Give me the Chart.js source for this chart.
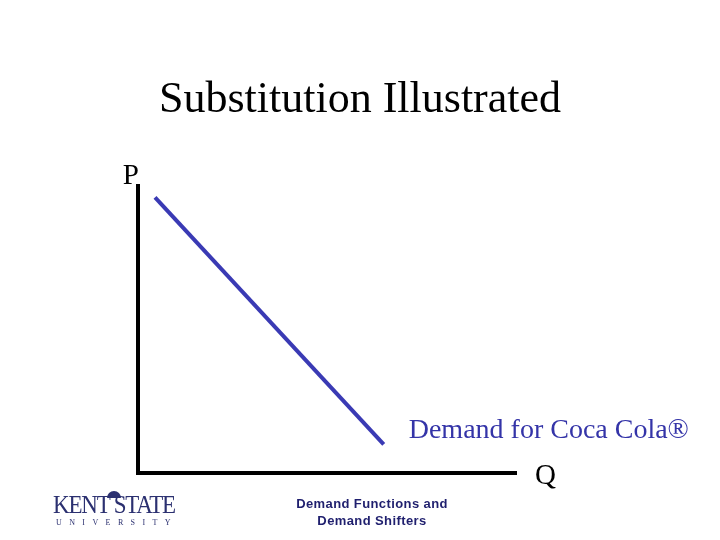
<!DOCTYPE html>
<html>
<head>
<meta charset="utf-8">
<script src="https://cdn.jsdelivr.net/npm/chart.js@4.4.1/dist/chart.umd.min.js"></script>
<style>
  html, body { margin: 0; padding: 0; background: #fff; }
  #wrap { position: relative; width: 720px; height: 540px; }
  #slide { position: absolute; left: 0; top: 0; }
  .footer { position: absolute; left: 270px; top: 495px; width: 204px; text-align: center;
            font-family: "Liberation Sans", Arial, sans-serif; font-weight: bold; font-size: 13px;
            letter-spacing: 0.4px; line-height: 17px; color: #1f1f6e; }
  .logo { position: absolute; left: 50px; top: 486px; width: 128px; color: #2b3070; white-space: nowrap;
          font-family: "Liberation Serif", "Times New Roman", serif; text-align: center; }
  .logo .name { font-size: 23px; letter-spacing: -1.2px; line-height: 24px; margin-top: 7px; transform: scaleY(1.1); }
  .logo .uni { font-size: 8px; letter-spacing: 7.4px; line-height: 9px; margin-left: 6px; margin-top: 1px; }
  .logo .sun { position: absolute; left: 57px; top: 5px; width: 14px; height: 7px;
               border-radius: 7px 7px 0 0; background: #2b3070; }
</style>
</head>
<body>
<div id="wrap">
  <canvas id="slide" width="720" height="540"></canvas>
  <div class="logo"><div class="sun"></div><div class="name">KENT STATE</div><div class="uni">UNIVERSITY</div></div>
  <div class="footer">Demand Functions and<br>Demand Shifters</div>
</div>
<script>
// demand curve end points (quantity, price)
const quantity = [0.45, 6.5];
const price = [9.6, 1.0];

const titleText = 'Substitution Illustrated';
const xLabel = 'Q';
const yLabel = 'P';
const curveLabel = 'Demand for Coca Cola®';

const textPlugin = {
    id: 'slideText',
    afterDraw(chart) {
        const ctx = chart.ctx;
        const area = chart.chartArea;
        const xs = chart.scales.x;
        const ys = chart.scales.y;
        ctx.save();
        ctx.fillStyle = '#000';
        ctx.textBaseline = 'alphabetic';

        ctx.font = '44px "Liberation Serif", "Times New Roman", serif';
        ctx.textAlign = 'center';
        ctx.fillText(titleText, 360, 112);

        ctx.font = '29px "Liberation Serif", "Times New Roman", serif';
        ctx.textAlign = 'right';
        ctx.fillText(yLabel, area.left + 1, area.top - 2);
        ctx.textAlign = 'left';
        ctx.fillText(xLabel, area.right + 19, area.bottom + 11);

        ctx.font = '28px "Liberation Serif", "Times New Roman", serif';
        ctx.fillStyle = '#3434a8';
        ctx.fillText(curveLabel, xs.getPixelForValue(quantity[1]) + 25, ys.getPixelForValue(price[1]) - 6);
        ctx.restore();
    }
};

new Chart(document.getElementById('slide'), {
    type: 'scatter',
    data: {
        datasets: [{
            data: quantity.map((q, i) => ({ x: q, y: price[i] })),
            showLine: true,
            borderColor: '#3a3ab4',
            borderWidth: 4,
            pointRadius: 0,
            fill: false
        }]
    },
    options: {
        responsive: false,
        animation: false,
        layout: { padding: { left: 130, right: 204, top: 186, bottom: 59 } },
        plugins: { legend: { display: false }, tooltip: { enabled: false } },
        scales: {
            x: {
                min: 0, max: 10,
                ticks: { display: false },
                grid: { display: false },
                border: { display: true, color: '#000', width: 4 }
            },
            y: {
                min: 0, max: 10,
                ticks: { display: false },
                grid: { display: false },
                border: { display: true, color: '#000', width: 4 }
            }
        }
    },
    plugins: [textPlugin]
});
</script>
</body>
</html>
